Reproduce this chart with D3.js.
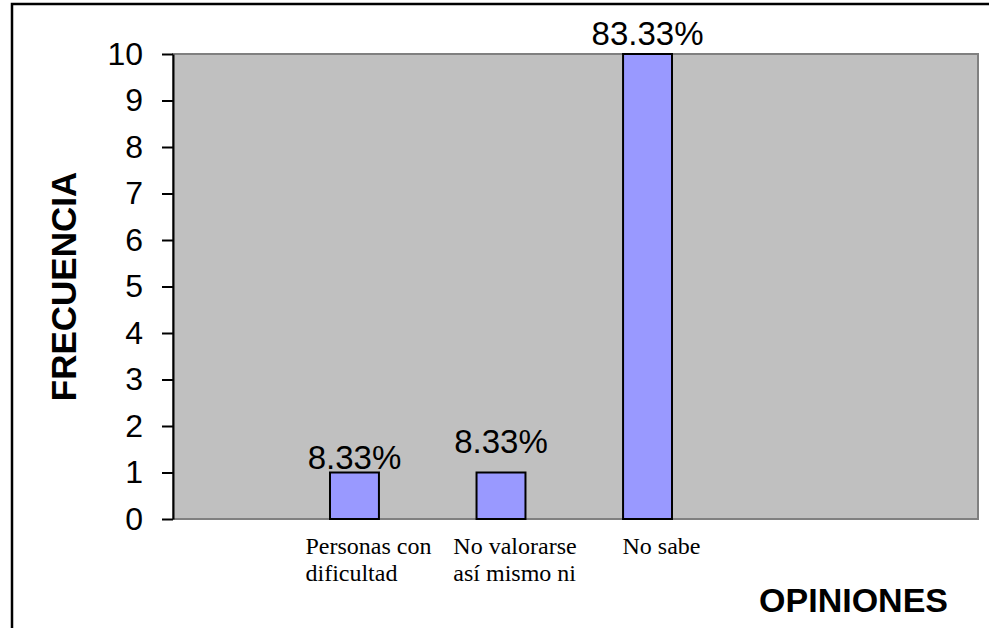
<!DOCTYPE html>
<html>
<head>
<meta charset="utf-8">
<script src="https://cdn.jsdelivr.net/npm/d3@7"></script>
<style>
  body { margin: 0; background: #fff; }
  svg { display: block; }
</style>
</head>
<body>
<svg id="chart"></svg>
<script>
// data
const categories = ['Personas con dificultad', 'No valorarse así mismo ni', 'No sabe'];
const categoryLines = [['Personas con', 'dificultad'], ['No valorarse', 'así mismo ni'], ['No sabe']];
const frecuencia = [1, 1, 10];
const porcentajes = ['8.33%', '8.33%', '83.33%'];
const yTicks = [0, 1, 2, 3, 4, 5, 6, 7, 8, 9, 10];

class barChartOpiniones {
    constructor(_config) {
        this.config = {
            parentElement: _config.parentElement,
            containerWidth: _config.containerWidth || 989,
            containerHeight: _config.containerHeight || 628,
            margin: _config.margin || {top: 54, right: 11, bottom: 109, left: 173}
        };
        this.initVis();
    }

    initVis() {
        let vis = this;
        vis.width = vis.config.containerWidth - vis.config.margin.left - vis.config.margin.right;
        vis.height = vis.config.containerHeight - vis.config.margin.top - vis.config.margin.bottom;

        vis.svg = d3.select(vis.config.parentElement)
            .attr('width', vis.config.containerWidth)
            .attr('height', vis.config.containerHeight);

        // outer chart frame (only left/top visible)
        vis.svg.append('rect')
            .attr('x', 12).attr('y', 4)
            .attr('width', 1000).attr('height', 700)
            .attr('fill', 'none')
            .attr('stroke', '#000')
            .attr('stroke-width', 2.5);

        vis.chart = vis.svg.append('g')
            .attr('transform', `translate(${vis.config.margin.left},${vis.config.margin.top})`);

        vis.yScale = d3.scaleLinear()
            .domain([0, 10])
            .range([vis.height, 0]);

        // bars sit in bands with wide gaps, like the excel default
        vis.xScale = d3.scaleBand()
            .domain(categories)
            .range([157, 499])
            .paddingInner(0.666)
            .paddingOuter(0);

        vis.yAxis = d3.axisLeft(vis.yScale)
            .tickValues(yTicks)
            .tickSize(11)
            .tickSizeOuter(0)
            .tickPadding(19);

        // plot area
        vis.chart.append('rect')
            .attr('width', vis.width)
            .attr('height', vis.height)
            .attr('fill', '#c0c0c0')
            .attr('stroke', '#808080')
            .attr('stroke-width', 2);

        // axis titles
        vis.svg.append('text')
            .attr('transform', `translate(76,${vis.config.margin.top + vis.height / 2}) rotate(-90)`)
            .attr('text-anchor', 'middle')
            .attr('font-family', 'Liberation Sans, Arial, sans-serif')
            .attr('font-weight', 'bold')
            .attr('font-size', '35px')
            .text('FRECUENCIA');

        vis.svg.append('text')
            .attr('x', 948)
            .attr('y', 612)
            .attr('text-anchor', 'end')
            .attr('font-family', 'Liberation Sans, Arial, sans-serif')
            .attr('font-weight', 'bold')
            .attr('font-size', '34px')
            .text('OPINIONES');
    }

    updateVis() {
        let vis = this;
        const data = categories.map((c, i) => ({cat: c, lines: categoryLines[i], value: frecuencia[i], pct: porcentajes[i]}));
        const labelNudge = [4, 20, 9];

        vis.chart.selectAll('.bar')
            .data(data)
            .join('rect')
            .attr('class', 'bar')
            .attr('x', d => vis.xScale(d.cat))
            .attr('y', d => vis.yScale(d.value))
            .attr('width', vis.xScale.bandwidth())
            .attr('height', d => vis.yScale(0) - vis.yScale(d.value))
            .attr('fill', '#9999ff')
            .attr('stroke', '#000')
            .attr('stroke-width', 2);

        vis.chart.selectAll('.pct')
            .data(data)
            .join('text')
            .attr('class', 'pct')
            .attr('x', d => vis.xScale(d.cat) + vis.xScale.bandwidth() / 2)
            .attr('y', (d, i) => vis.yScale(d.value) - labelNudge[i])
            .attr('text-anchor', 'middle')
            .attr('font-family', 'Liberation Sans, Arial, sans-serif')
            .attr('font-size', '33px')
            .text(d => d.pct);

        // category labels, wrapped, block left aligned
        const cats = vis.chart.selectAll('.cat')
            .data(data)
            .join('text')
            .attr('class', 'cat')
            .attr('font-family', 'Liberation Serif, Times New Roman, serif')
            .attr('font-size', '24px')
            .attr('y', vis.height + 35);
        cats.selectAll('tspan')
            .data(d => d.lines)
            .join('tspan')
            .attr('dy', (d, i) => i === 0 ? 0 : 27)
            .text(d => d);
        cats.each(function(d) {
            const t = d3.select(this);
            let w = 0;
            t.selectAll('tspan').each(function() { w = Math.max(w, this.getComputedTextLength()); });
            const x0 = vis.xScale(d.cat) + vis.xScale.bandwidth() / 2 + 14 - w / 2;
            t.selectAll('tspan').attr('x', x0);
        });

        vis.yAxisG = vis.chart.append('g')
            .attr('class', 'axis y-axis')
            .call(vis.yAxis);
        vis.yAxisG.selectAll('path, line')
            .attr('stroke', '#000')
            .attr('stroke-width', 2);
        vis.yAxisG.selectAll('text')
            .attr('font-family', 'Liberation Sans, Arial, sans-serif')
            .attr('font-size', '32px')
            .attr('fill', '#000');
    }
}

const chart = new barChartOpiniones({parentElement: '#chart'});
chart.updateVis();
</script>
</body>
</html>
